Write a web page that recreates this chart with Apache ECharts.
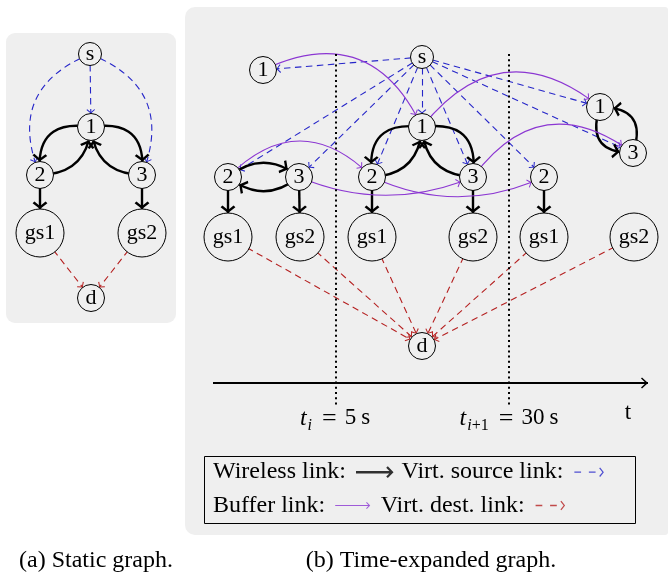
<!DOCTYPE html>
<html><head><meta charset="utf-8">
<script src="https://cdn.jsdelivr.net/npm/echarts@6/dist/echarts.min.js"></script>
<style>html,body{margin:0;padding:0;background:#fff}#c{width:669px;height:573px}</style>
</head><body><div id="c"></div>
<script>
// ---------- (a) Static graph ----------
const staticNodeIds    = ['s', '1', '2', '3', 'gs1', 'gs2', 'd'];
const staticNodeLabels = ['s', '1', '2', '3', 'gs1', 'gs2', 'd'];
const staticNodeX      = [90, 91, 40, 142, 40, 142, 91];
const staticNodeY      = [54, 127, 175, 175, 233, 233, 298];
const staticLinkFrom   = ['s', 's', 's', '1', '2', '1', '3', '2', '3', 'gs1', 'gs2'];
const staticLinkTo     = ['2', '1', '3', '2', '1', '3', '1', 'gs1', 'gs2', 'd', 'd'];
const staticLinkKind   = ['source', 'source', 'source', 'wireless', 'wireless', 'wireless', 'wireless', 'wireless', 'wireless', 'dest', 'dest'];
const staticLinkBend   = [-0.5, 0, 0.5, -0.65, -0.45, 0.65, 0.45, 0, 0, 0, 0];

// ---------- (b) Time-expanded graph ----------
const tegNodeIds    = ['1@0', '2@0', '3@0', 'gs1@0', 'gs2@0', 's', '1@1', '2@1', '3@1', 'gs1@1', 'gs2@1', 'd', '1@2', '3@2', '2@2', 'gs1@2', 'gs2@2'];
const tegNodeLabels = ['1', '2', '3', 'gs1', 'gs2', 's', '1', '2', '3', 'gs1', 'gs2', 'd', '1', '3', '2', 'gs1', 'gs2'];
const tegNodeX      = [263, 228, 299, 228, 300, 422, 422, 372, 473, 372, 473, 422, 600, 633, 544, 544, 634];
const tegNodeY      = [70, 177, 177, 237, 237, 57, 127, 177, 177, 237, 237, 346, 107, 153, 177, 237, 237];
const tegLinkFrom = ['s', 's', 's', 's', 's', 's', 's', 's', 's',
  '2@0', '3@0', '2@0', '3@0', '1@1', '2@1', '1@1', '3@1', '2@1', '3@1', '1@2', '3@2', '2@2',
  '1@0', '2@0', '3@0', '1@1', '3@1', '2@1',
  'gs1@0', 'gs2@0', 'gs1@1', 'gs2@1', 'gs1@2', 'gs2@2'];
const tegLinkTo = ['1@0', '2@0', '3@0', '1@1', '2@1', '3@1', '2@2', '1@2', '3@2',
  '3@0', '2@0', 'gs1@0', 'gs2@0', '2@1', '1@1', '3@1', '1@1', 'gs1@1', 'gs2@1', '3@2', '1@2', 'gs1@2',
  '1@1', '2@1', '3@1', '1@2', '3@2', '2@2',
  'd', 'd', 'd', 'd', 'd', 'd'];
const tegLinkKind = ['source', 'source', 'source', 'source', 'source', 'source', 'source', 'source', 'source',
  'wireless', 'wireless', 'wireless', 'wireless', 'wireless', 'wireless', 'wireless', 'wireless', 'wireless', 'wireless', 'wireless', 'wireless', 'wireless',
  'buffer', 'buffer', 'buffer', 'buffer', 'buffer', 'buffer',
  'dest', 'dest', 'dest', 'dest', 'dest', 'dest'];
const tegLinkBend = [0, 0, 0, 0, 0, 0, 0, 0, 0,
  0.4, 0.4, 0, 0, -0.65, -0.45, 0.65, 0.45, 0, 0, -0.7, -0.7, 0,
  0.5, 0.5, -0.21, 0.5, 0.5, -0.23,
  0, 0, 0, 0, 0, 0];

// time slots and time axis
const slotBoundaryX = [336, 509];
const timeLabelX    = [335, 509, 628];
const timeLabelY    = [418, 418, 413];
const timeLabelText = ['{it|t}{sub|i}{eq|=}{n|5}{u|s}', '{it|t}{sub|i}{subn|+1}{eq|=}{n|30}{u|s}', '{n|t}'];

// legend entries (two rows)
const legendRow1Names = ['Wireless link:', 'Virt. source link:'];
const legendRow1Kinds = ['wireless', 'source'];
const legendRow2Names = ['Buffer link:', 'Virt. dest. link:'];
const legendRow2Kinds = ['buffer', 'dest'];

// ---------- styles ----------
const FONT = 'Liberation Serif';
const BIG_HEAD = 'path://M0,-7.4L0,-7.4M0,0L6.5,5.8L4.9,7.4L0,3L-4.9,7.4L-6.5,5.8Z';
const SMALL_HEAD = 'path://M0,-4.3L0,-4.3M0,0L3.8,3.6L3.1,4.3L0,1.2L-3.1,4.3L-3.8,3.6Z';
const AXIS_HEAD = 'path://M0,-7L0,-7M0,0L5.5,6L4.4,7L0,2.2L-4.4,7L-5.5,6Z';
const DASH_ICON = 'path://M0,0L0,0M45,16L45,16M6,7.35L12.7,7.35L12.7,8.65L6,8.65ZM20.5,7.35L27.2,7.35L27.2,8.65L20.5,8.65ZM35.5,8L31.8,12.7L30.8,11.9L34,8L30.8,4.1L31.8,3.3Z';
const kindStyle = {
  wireless: {color: '#000000', width: 2.4, type: 'solid', head: BIG_HEAD, size: [13, 14.8],
    icon: 'path://M0,0L0,0M45,16L45,16M5,6.8L41,6.8L41,9.2L5,9.2ZM42.5,8L36.8,13.9L35.2,12.4L39.6,8L35.2,3.6L36.8,2.1Z'},
  source: {color: '#2626c9', width: 1.1, type: [6.5, 4.5], head: SMALL_HEAD, size: [7.6, 8.6], icon: DASH_ICON},
  buffer: {color: '#8b36d2', width: 1.1, type: 'solid', head: SMALL_HEAD, size: [7.6, 8.6],
    icon: 'path://M0,0L0,0M45,16L45,16M5,7.45L39,7.45L39,8.55L5,8.55ZM40,8L36.6,11.5L35.9,10.8L38.6,8L35.9,5.2L36.6,4.5Z'},
  dest: {color: '#b52020', width: 1.1, type: [6.5, 4.5], head: SMALL_HEAD, size: [7.6, 8.6], icon: DASH_ICON}
};
function nodeSize(label) {
  if (label.indexOf('gs') === 0) return 48;
  if (label === 's') return 23;
  return 27;
}
function buildGraph(ids, labels, xs, ys, from, to, kind, bend) {
  const idx = {};
  ids.forEach((id, i) => { idx[id] = i; });
  return {
    type: 'graph', coordinateSystem: 'cartesian2d', silent: true, z: 3,
    symbol: 'circle',
    itemStyle: {color: '#efefef', borderColor: '#000', borderWidth: 1},
    lineStyle: {opacity: 1},
    emphasis: {disabled: true},
    label: {show: true, position: 'inside', color: '#000', fontFamily: FONT, fontSize: 22},
    data: ids.map((id, i) => ({
      name: id, value: [xs[i], ys[i]], symbolSize: nodeSize(labels[i]),
      label: {formatter: labels[i]}
    })),
    links: from.map((f, i) => {
      const k = kindStyle[kind[i]];
      return {
        source: idx[f], target: idx[to[i]],
        symbol: ['none', k.head], symbolSize: k.size,
        lineStyle: {color: k.color, width: k.width, type: k.type, curveness: bend[i], opacity: 1}
      };
    })
  };
}
function legendRow(names, kinds, top) {
  return {
    data: names.map((n, i) => ({name: n, icon: kindStyle[kinds[i]].icon})),
    left: 213, top: top, padding: 0,
    align: 'right', orient: 'horizontal',
    itemWidth: 45, itemHeight: 16, itemGap: 5.5,
    selectedMode: false,
    itemStyle: {borderWidth: 0},
    textStyle: {fontFamily: FONT, fontSize: 24, color: '#000', lineHeight: 28}
  };
}

const chart = echarts.init(document.getElementById('c'), null, {renderer: 'canvas', width: 669, height: 573});
const option = {
  animation: false,
  backgroundColor: '#ffffff',
  grid: {left: 0, right: 0, top: 0, bottom: 0},
  xAxis: {type: 'value', min: 0, max: 669, show: false},
  yAxis: {type: 'value', min: 0, max: 573, inverse: true, show: false},
  graphic: {elements: [
    {type: 'rect', z: 0, silent: true, shape: {x: 6, y: 33, width: 170, height: 290, r: 9}, style: {fill: '#efefef'}},
    {type: 'rect', z: 0, silent: true, shape: {x: 185, y: 7, width: 483, height: 528, r: [10, 3, 3, 10]}, style: {fill: '#efefef'}},
    {type: 'rect', z: 1, silent: true, shape: {x: 204.5, y: 456.5, width: 431, height: 67}, style: {fill: 'none', stroke: '#000', lineWidth: 1}},
    {type: 'text', z: 5, silent: true, x: 96, y: 560.5, style: {text: '(a) Static graph.', font: '24px "Liberation Serif"', fill: '#000', align: 'center', verticalAlign: 'middle'}},
    {type: 'text', z: 5, silent: true, x: 431, y: 560.5, style: {text: '(b) Time-expanded graph.', font: '24px "Liberation Serif"', fill: '#000', align: 'center', verticalAlign: 'middle'}}
  ]},
  legend: [
    legendRow(legendRow1Names, legendRow1Kinds, 458.2),
    legendRow(legendRow2Names, legendRow2Kinds, 491.5)
  ],
  series: [
    buildGraph(staticNodeIds, staticNodeLabels, staticNodeX, staticNodeY, staticLinkFrom, staticLinkTo, staticLinkKind, staticLinkBend),
    buildGraph(tegNodeIds, tegNodeLabels, tegNodeX, tegNodeY, tegLinkFrom, tegLinkTo, tegLinkKind, tegLinkBend),
    {
      type: 'scatter', name: 'time', silent: true, z: 2, data: [],
      markLine: {
        silent: true, animation: false, label: {show: false}, emphasis: {disabled: true},
        symbol: ['none', 'none'],
        lineStyle: {color: '#000', width: 2, type: [2, 3.2], opacity: 1},
        data: slotBoundaryX.map(x => [{coord: [x, 54]}, {coord: [x, 405]}]).concat([
          [{coord: [213, 383], symbol: 'none', lineStyle: {type: 'solid', width: 1.8}},
           {coord: [648, 383], symbol: AXIS_HEAD, symbolSize: [11, 14]}]
        ])
      }
    },
    {
      type: 'scatter', name: 'timeLabels', silent: true, z: 4, symbolSize: 0,
      itemStyle: {opacity: 1},
      data: timeLabelX.map((x, i) => ({value: [x, timeLabelY[i]], label: {formatter: timeLabelText[i]}})),
      label: {
        show: true, position: 'inside', color: '#000', opacity: 1,
        rich: {
          it: {color: '#000', fontFamily: FONT, fontStyle: 'italic', fontSize: 24, lineHeight: 23, verticalAlign: 'top'},
          sub: {color: '#000', fontFamily: FONT, fontStyle: 'italic', fontSize: 16, lineHeight: 16, verticalAlign: 'top', padding: [11, 0, 0, 1]},
          subn: {color: '#000', fontFamily: FONT, fontSize: 16, lineHeight: 16, verticalAlign: 'top', padding: [11, 0, 0, 0]},
          eq: {color: '#000', fontFamily: FONT, fontSize: 26, lineHeight: 23, verticalAlign: 'top', padding: [0, 8, 0, 10]},
          n: {color: '#000', fontFamily: FONT, fontSize: 23, lineHeight: 23, verticalAlign: 'top'},
          u: {color: '#000', fontFamily: FONT, fontSize: 23, lineHeight: 23, verticalAlign: 'top', padding: [0, 0, 0, 5]}
        }
      }
    }
  ].concat(legendRow1Names.concat(legendRow2Names).map((n, i) => ({
    type: 'scatter', name: n, data: [], silent: true,
    itemStyle: {color: kindStyle[legendRow1Kinds.concat(legendRow2Kinds)[i]].color}
  })))
};
chart.setOption(option);
</script>
</body></html>
